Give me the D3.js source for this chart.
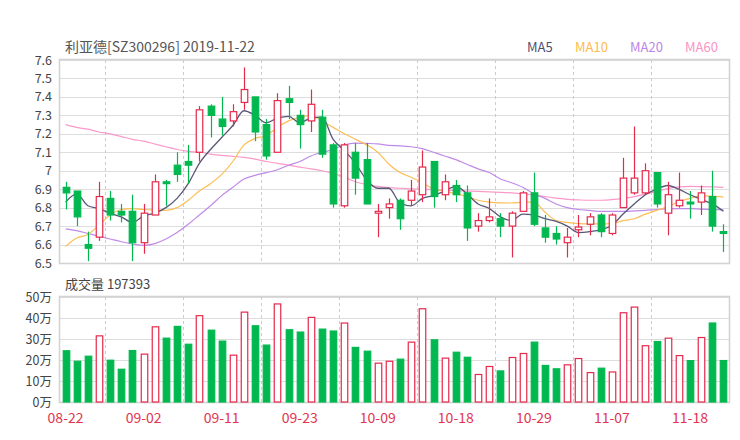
<!DOCTYPE html>
<html>
<head>
<meta charset="utf-8">
<script src="https://cdn.jsdelivr.net/npm/d3@7/dist/d3.min.js"></script>
<style>
html,body{margin:0;padding:0;background:#fff;}
svg{display:block;font-family:"Noto Sans CJK SC","Noto Sans",sans-serif;}
</style>
</head>
<body>
<svg id="chart" width="740" height="440"></svg>
<script>
const title = "利亚德[SZ300296] 2019-11-22";
const volTitle = "成交量 197393";
const dates = ["08-22","08-23","08-26","08-27","08-28","08-29","08-30","09-02","09-03","09-04","09-05","09-06","09-09","09-10","09-11","09-12","09-16","09-17","09-18","09-19","09-20","09-23","09-24","09-25","09-26","09-27","09-30","10-08","10-09","10-10","10-11","10-14","10-15","10-16","10-17","10-18","10-21","10-22","10-23","10-24","10-25","10-28","10-29","10-30","10-31","11-01","11-04","11-05","11-06","11-07","11-08","11-11","11-12","11-13","11-14","11-15","11-18","11-19","11-20","11-21"];
const open  = [6.91,6.89,6.60,6.64,6.85,6.78,6.78,6.61,6.76,6.94,7.03,7.05,7.10,7.35,7.28,7.27,7.37,7.40,7.25,7.10,7.39,7.30,7.27,7.29,7.14,6.81,7.10,7.06,6.77,6.80,6.84,6.84,6.87,7.05,6.87,6.92,6.88,6.70,6.73,6.74,6.70,6.78,6.88,6.69,6.66,6.61,6.68,6.71,6.76,6.66,6.80,6.88,6.88,6.99,6.77,6.81,6.83,6.83,6.86,6.67];
const close = [6.88,6.75,6.58,6.86,6.76,6.76,6.61,6.77,6.94,6.93,6.98,7.03,7.33,7.30,7.24,7.32,7.44,7.21,7.08,7.38,7.37,7.25,7.36,7.09,6.82,7.14,6.96,6.82,6.78,6.82,6.74,6.89,7.02,6.86,6.94,6.87,6.69,6.73,6.75,6.70,6.77,6.88,6.71,6.64,6.63,6.64,6.695,6.75,6.67,6.76,6.96,6.96,7.00,6.82,6.87,6.84,6.82,6.88,6.70,6.66];
const high  = [6.94,6.89,6.67,6.94,6.89,6.82,6.87,6.82,6.98,6.95,7.10,7.14,7.35,7.36,7.40,7.36,7.56,7.40,7.28,7.42,7.46,7.33,7.44,7.33,7.15,7.15,7.15,7.15,6.82,6.85,6.85,6.95,7.11,7.05,6.98,6.95,6.92,6.77,6.85,6.77,6.78,6.89,6.99,6.76,6.70,6.69,6.76,6.77,6.77,6.77,7.07,7.24,7.04,6.99,6.94,6.99,6.89,6.92,7.00,6.71];
const low   = [6.79,6.70,6.51,6.62,6.73,6.72,6.51,6.55,6.76,6.81,6.94,6.93,7.05,7.18,7.19,7.24,7.33,7.16,7.06,7.10,7.28,7.12,7.21,7.07,6.80,6.80,6.87,6.82,6.64,6.74,6.68,6.81,6.83,6.80,6.84,6.83,6.62,6.67,6.72,6.64,6.53,6.78,6.70,6.61,6.60,6.53,6.64,6.65,6.64,6.65,6.80,6.87,6.87,6.80,6.65,6.80,6.74,6.76,6.67,6.56];
const volume = [244000,194000,218000,315000,199000,156000,245000,228000,358000,304000,360000,275000,411000,342000,290000,223000,428000,363000,271000,467000,344000,333000,403000,347000,338000,376000,260000,242000,185000,194000,204000,285000,444000,296000,209000,237000,213000,131000,169000,148000,212000,231000,285000,174000,158000,177000,207000,140000,161000,143000,425000,452000,268000,288000,304000,221000,197000,307000,376000,197393];
const ma5  = [6.83,6.875,6.81,6.795,6.77,6.75,6.72,6.755,6.77,6.80,6.85,6.93,7.04,7.115,7.18,7.245,7.325,7.30,7.26,7.285,7.295,7.26,7.285,7.29,7.17,7.11,7.04,6.95,6.905,6.905,6.825,6.81,6.85,6.865,6.89,6.915,6.875,6.82,6.795,6.75,6.73,6.765,6.76,6.74,6.725,6.70,6.665,6.67,6.68,6.705,6.765,6.82,6.87,6.90,6.92,6.90,6.87,6.845,6.82,6.78];
const ma10 = [6.59,6.635,6.655,6.705,6.76,6.79,6.795,6.79,6.787,6.785,6.80,6.84,6.89,6.93,6.98,7.05,7.14,7.175,7.19,7.235,7.27,7.29,7.30,7.27,7.235,7.20,7.17,7.14,7.10,7.035,6.99,6.965,6.935,6.90,6.89,6.875,6.86,6.84,6.83,6.826,6.825,6.83,6.83,6.775,6.73,6.72,6.713,6.712,6.712,6.713,6.73,6.74,6.765,6.785,6.805,6.832,6.85,6.865,6.862,6.857];
const ma20 = [6.685,6.675,6.66,6.645,6.63,6.615,6.603,6.595,6.605,6.63,6.665,6.71,6.76,6.81,6.865,6.91,6.955,6.975,6.99,7.005,7.03,7.05,7.08,7.10,7.115,7.14,7.15,7.148,7.145,7.137,7.135,7.13,7.12,7.10,7.08,7.06,7.035,7.01,6.99,6.955,6.935,6.91,6.875,6.85,6.82,6.80,6.79,6.785,6.78,6.78,6.78,6.782,6.785,6.79,6.793,6.795,6.795,6.792,6.79,6.788];
const ma60 = [7.25,7.235,7.225,7.21,7.20,7.185,7.17,7.16,7.145,7.13,7.115,7.105,7.10,7.09,7.083,7.078,7.072,7.063,7.05,7.04,7.03,7.02,7.01,7.0,6.985,6.965,6.94,6.925,6.915,6.908,6.905,6.902,6.90,6.897,6.894,6.892,6.89,6.888,6.885,6.883,6.88,6.875,6.868,6.86,6.852,6.845,6.842,6.84,6.84,6.843,6.85,6.86,6.873,6.888,6.903,6.912,6.915,6.914,6.912,6.91];
const priceTicks = [7.6,7.5,7.4,7.3,7.2,7.1,7.0,6.9,6.8,6.7,6.6,6.5];
const volTicks = [0,100000,200000,300000,400000,500000];
const xTickLabels = ["08-22","09-02","09-11","09-23","10-09","10-18","10-29","11-07","11-18"];
const maNames = ["MA5","MA10","MA20","MA60"];

const colors = {up:"#e5294b", down:"#00b84f", ma:["#4e4f72","#fdbb4d","#bd84e6","#fb93c7"], grid:"#dddddd", frame:"#d3d3d3", text:"#444", xlab:"#e23552"};
const maData = [ma5, ma10, ma20, ma60];

const svg = d3.select("#chart");
const L = 60, R = 729;
const x = d3.scaleBand().domain(dates).range([L, R]).padding(0);
const bw = x.bandwidth();
const cx = d => x(d) + bw / 2;
const y = d3.scaleLinear().domain([6.5, 7.6]).range([263, 60]);
const yv = d3.scaleLinear().domain([0, 500000]).range([402, 297]);

// Title & legend
svg.append("text").attr("x", 65).attr("y", 52).attr("font-size", 14).attr("fill", "#555").text(title);
const legendX = [527, 575, 630, 685];
maNames.forEach((n, i) => {
  svg.append("text").attr("x", legendX[i]).attr("y", 52).attr("font-size", 13).attr("fill", colors.ma[i]).text(n);
});
svg.append("text").attr("x", 65).attr("y", 289).attr("font-size", 13).attr("fill", "#444").text(volTitle);

// dashed vertical grid positions (between tick labels)
const dashX = [];
for (let k = 0; k < xTickLabels.length - 1; k++) {
  dashX.push((cx(xTickLabels[k]) + cx(xTickLabels[k + 1])) / 2);
}

function panel(gy, ticks, fmt, top, bottom) {
  const g = svg.append("g");
  g.selectAll("line.h").data(ticks).enter().append("line")
    .attr("x1", L).attr("x2", R).attr("y1", d => Math.round(gy(d)) + 0.5).attr("y2", d => Math.round(gy(d)) + 0.5)
    .attr("stroke", colors.grid).attr("stroke-width", 1.2);
  g.selectAll("line.v").data(dashX).enter().append("line")
    .attr("x1", d => Math.round(d) + 0.5).attr("x2", d => Math.round(d) + 0.5).attr("y1", top).attr("y2", bottom)
    .attr("stroke", "#cccccc").attr("stroke-dasharray", "3,3");
  g.append("rect").attr("x", L - 0.5).attr("y", top - 0.5).attr("width", R - L + 1).attr("height", bottom - top + 1)
    .attr("fill", "none").attr("stroke", colors.frame).attr("stroke-width", 1.6);
  const ax = d3.axisLeft(gy).tickValues(ticks).tickFormat(fmt).tickSize(0).tickPadding(0);
  const a = svg.append("g").attr("transform", `translate(52,0)`).call(ax);
  a.select(".domain").remove();
  a.selectAll("text").attr("font-size", 12.5).attr("fill", colors.text).attr("font-family", "'Noto Sans CJK SC','Noto Sans',sans-serif");
}
panel(y, priceTicks, d => d3.format("")(+d.toFixed(1)), 60, 263);
panel(yv, volTicks, d => (d / 10000) + "万", 297, 402);

// MA lines
const clip = svg.append("clipPath").attr("id", "pc").append("rect").attr("x", L).attr("y", 60).attr("width", R - L).attr("height", 203);
const lineGen = d3.line().x((d, i) => cx(dates[i])).y(d => y(d)).curve(d3.curveMonotoneX);
maData.slice().reverse().forEach((arr, j) => {
  const i = 3 - j;
  svg.append("path").attr("d", lineGen(arr)).attr("fill", "none").attr("stroke", colors.ma[i])
    .attr("stroke-width", i === 0 ? 1.3 : 1.2).attr("opacity", 0.95).attr("clip-path", "url(#pc)");
});

// Candles
const bodyW = 6.5;
const cg = svg.append("g");
dates.forEach((d, i) => {
  const up = close[i] >= open[i];
  const col = up ? colors.up : colors.down;
  const xc = Math.round(cx(d)) + 0.5;
  const top = y(Math.max(open[i], close[i]));
  const bot = y(Math.min(open[i], close[i]));
  cg.append("line").attr("x1", xc).attr("x2", xc).attr("y1", y(high[i])).attr("y2", top).attr("stroke", col).attr("stroke-width", 1.2);
  cg.append("line").attr("x1", xc).attr("x2", xc).attr("y1", bot).attr("y2", y(low[i])).attr("stroke", col).attr("stroke-width", 1.2);
  const h = Math.max(bot - top, 1.5);
  cg.append("rect").attr("x", xc - bodyW / 2).attr("y", top).attr("width", bodyW).attr("height", h)
    .attr("fill", up ? "#fff" : col).attr("stroke", col).attr("stroke-width", 1.2);
});

// Volume bars
const vg = svg.append("g");
dates.forEach((d, i) => {
  const up = close[i] >= open[i];
  const col = up ? colors.up : colors.down;
  const xc = Math.round(cx(d)) + 0.5;
  vg.append("rect").attr("x", xc - bodyW / 2).attr("y", yv(volume[i])).attr("width", bodyW).attr("height", yv(0) - yv(volume[i]))
    .attr("fill", up ? "#fff" : col).attr("stroke", col).attr("stroke-width", 1.2);
});

// X labels
svg.selectAll("text.xl").data(xTickLabels).enter().append("text")
  .attr("x", d => cx(d)).attr("y", 423).attr("text-anchor", "middle").attr("font-size", 14).attr("fill", colors.xlab).text(d => d);
</script>
</body>
</html>
